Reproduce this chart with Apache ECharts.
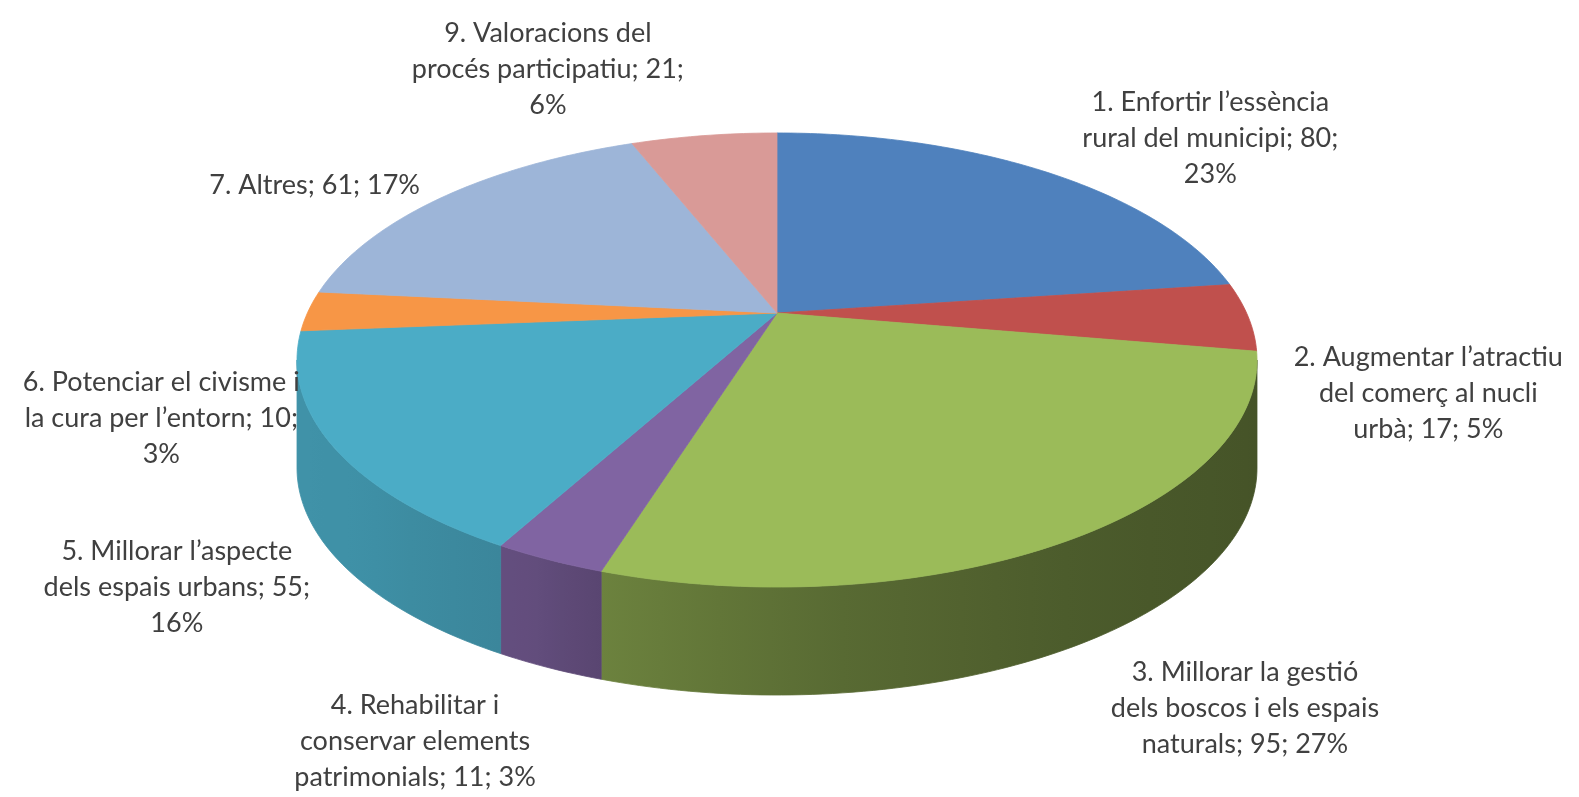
<!DOCTYPE html>
<html>
<head>
<meta charset="utf-8">
<script src="https://cdn.jsdelivr.net/npm/echarts@6/dist/echarts.min.js"></script>
<style>
  html, body { margin: 0; padding: 0; background: #ffffff; }
  #chart { width: 1579px; height: 797px; }
</style>
</head>
<body>
<div id="chart"></div>
<script>
// Survey themes and number of responses per theme
const categories = [
  '1. Enfortir l’essència rural del municipi',
  '2. Augmentar l’atractiu del comerç al nucli urbà',
  '3. Millorar la gestió dels boscos i els espais naturals',
  '4. Rehabilitar i conservar elements patrimonials',
  '5. Millorar l’aspecte dels espais urbans',
  '6. Potenciar el civisme i la cura per l’entorn',
  '7. Altres',
  '9. Valoracions del procés participatiu'
];
const responses = [80, 17, 95, 11, 55, 10, 61, 21];
const sliceColors = ['#4F81BD', '#C0504D', '#9BBB59', '#8064A2', '#4BACC6', '#F79646', '#9DB5D8', '#D99A97'];

// ---- tilted-disc geometry (perspective view of a flat cylinder) ----
const CX = 777, CY = 313;      // projected centre of the top face
const SX = 469.6, SY = 217.3;  // horizontal / vertical scale of the disc
const K = 0.207;               // perspective strength
const DEPTH = 108;             // thickness of the cylinder
const FONT = '27px Lato';
const LINE_H = 36;

const total = responses.reduce((a, b) => a + b, 0);
const startAngle = [], endAngle = [];
let acc = 0;
responses.forEach(v => {
  startAngle.push(acc / total * Math.PI * 2);
  acc += v;
  endAngle.push(acc / total * Math.PI * 2);
});

// angle measured clockwise from 12 o'clock
function project(theta) {
  const u = Math.sin(theta), v = Math.cos(theta), d = 1 + K * v;
  return [CX + SX * u / d, CY - SY * v / d];
}

// side wall only visible between the two silhouette tangents
const WALL_R = Math.acos(-K);
const WALL_L = Math.PI * 2 - WALL_R;

// brightness of the side wall depending on where it faces
const shadeStops = [[90, 0.44], [115, 0.45], [145, 0.48], [170, 0.55], [197, 0.69], [205, 0.77], [230, 0.84], [270, 0.86]];
function shadeFactor(deg) {
  for (let i = 1; i < shadeStops.length; i++) {
    if (deg <= shadeStops[i][0]) {
      const [a0, f0] = shadeStops[i - 1], [a1, f1] = shadeStops[i];
      return f0 + (f1 - f0) * (deg - a0) / (a1 - a0);
    }
  }
  return shadeStops[shadeStops.length - 1][1];
}
function shade(hex, f) {
  const n = parseInt(hex.slice(1), 16);
  const r = Math.round(((n >> 16) & 255) * f), g = Math.round(((n >> 8) & 255) * f), b = Math.round((n & 255) * f);
  return 'rgb(' + r + ',' + g + ',' + b + ')';
}

function arcPoints(a, b, dy) {
  const pts = [];
  const steps = Math.max(2, Math.ceil(Math.abs(b - a) / (Math.PI / 180)));
  for (let s = 0; s <= steps; s++) {
    const p = project(a + (b - a) * s / steps);
    pts.push([p[0], p[1] + dy]);
  }
  return pts;
}

// label text: "name; value; pct%", broken into lines after the given word counts
const labelBreaks = [[3, 7], [3, 7], [4, 9], [3, 5], [3, 7], [5, 10], [], [3, 6]];
function labelText(i) {
  const pct = Math.round(responses[i] / total * 100);
  const words = (categories[i] + '; ' + responses[i] + '; ' + pct + '%').split(' ');
  const lines = [];
  let from = 0;
  labelBreaks[i].concat([words.length]).forEach(to => {
    lines.push(words.slice(from, to).join(' '));
    from = to;
  });
  return lines.join('\n');
}
// label box placement relative to the slice's mid-point on the rim
const labelShift = [[166, -33], [180, 76], [171, 170], [-134, 182], [-156, 141], [-147, 107], [-129, -11], [-156, -66]];

const seriesData = responses.map((v, i) => ({ name: categories[i], value: v }));

function renderWall(params, api) {
  const i = params.dataIndex;
  const a = Math.max(startAngle[i], WALL_R), b = Math.min(endAngle[i], WALL_L);
  if (b <= a) return null;
  const top = arcPoints(a, b, 0);
  const bottom = arcPoints(b, a, DEPTH);
  const xs = top.map(p => p[0]);
  const minX = Math.min.apply(null, xs), maxX = Math.max.apply(null, xs);
  const stops = [];
  const n = 8;
  for (let s = 0; s <= n; s++) {
    const t = a + (b - a) * s / n;
    const x = project(t)[0];
    stops.push({ offset: maxX > minX ? (x - minX) / (maxX - minX) : 0, color: shade(sliceColors[i], shadeFactor(t * 180 / Math.PI)) });
  }
  stops.sort((p, q) => p.offset - q.offset);
  const fill = { type: 'linear', x: 0, y: 0, x2: 1, y2: 0, colorStops: stops };
  return {
    type: 'polygon',
    shape: { points: top.concat(bottom) },
    style: { fill: fill, stroke: fill, lineWidth: 0.8 }
  };
}

function renderTop(params, api) {
  const i = params.dataIndex;
  const pts = [[CX, CY]].concat(arcPoints(startAngle[i], endAngle[i], 0));
  return {
    type: 'polygon',
    shape: { points: pts },
    style: { fill: sliceColors[i], stroke: sliceColors[i], lineWidth: 0.8 }
  };
}

function renderLabel(params, api) {
  const i = params.dataIndex;
  const mid = (startAngle[i] + endAngle[i]) / 2;
  const p = project(mid);
  return {
    type: 'text',
    x: p[0] + labelShift[i][0],
    y: p[1] + labelShift[i][1],
    style: {
      text: labelText(i),
      font: FONT,
      fill: '#404040',
      align: 'center',
      verticalAlign: 'middle',
      lineHeight: LINE_H
    }
  };
}

const chart = echarts.init(document.getElementById('chart'), null, { renderer: 'canvas' });
chart.setOption({
  backgroundColor: '#ffffff',
  animation: false,
  series: [
    { type: 'custom', coordinateSystem: 'none', z: 1, data: seriesData, renderItem: renderWall, silent: true },
    { type: 'custom', coordinateSystem: 'none', z: 2, data: seriesData, renderItem: renderTop, silent: true },
    { type: 'custom', coordinateSystem: 'none', z: 3, data: seriesData, renderItem: renderLabel, silent: true }
  ]
});
</script>
</body>
</html>
